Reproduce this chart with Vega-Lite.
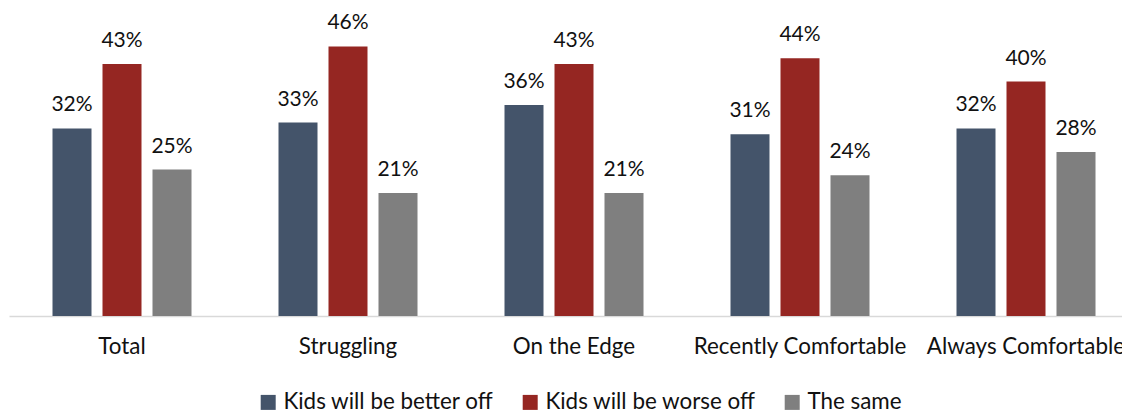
{
  "$schema": "https://vega.github.io/schema/vega-lite/v6.json",
  "autosize": {"type": "none"},
  "width": 1130,
  "height": 293,
  "padding": {"left": 9, "top": 23, "right": 0, "bottom": 96},
  "background": "white",
  "config": {
    "font": "Lato",
    "view": {"stroke": null}
  },
  "data": {
    "values": [
      {"group": "Total", "series": "Kids will be better off", "value": 0.32},
      {"group": "Total", "series": "Kids will be worse off", "value": 0.43},
      {"group": "Total", "series": "The same", "value": 0.25},
      {"group": "Struggling", "series": "Kids will be better off", "value": 0.33},
      {"group": "Struggling", "series": "Kids will be worse off", "value": 0.46},
      {"group": "Struggling", "series": "The same", "value": 0.21},
      {"group": "On the Edge", "series": "Kids will be better off", "value": 0.36},
      {"group": "On the Edge", "series": "Kids will be worse off", "value": 0.43},
      {"group": "On the Edge", "series": "The same", "value": 0.21},
      {"group": "Recently Comfortable", "series": "Kids will be better off", "value": 0.31},
      {"group": "Recently Comfortable", "series": "Kids will be worse off", "value": 0.44},
      {"group": "Recently Comfortable", "series": "The same", "value": 0.24},
      {"group": "Always Comfortable", "series": "Kids will be better off", "value": 0.32},
      {"group": "Always Comfortable", "series": "Kids will be worse off", "value": 0.40},
      {"group": "Always Comfortable", "series": "The same", "value": 0.28}
    ]
  },
  "encoding": {
    "x": {
      "field": "group", "type": "nominal", "sort": null,
      "scale": {"paddingInner": 0, "paddingOuter": 0},
      "axis": {
        "title": null, "labelAngle": 0, "labelFontSize": 22.4, "labelColor": "#111111",
        "ticks": false, "domainColor": "#d9d9d9", "domainWidth": 1.5, "labelPadding": 19,
        "labelLimit": 400
      }
    },
    "xOffset": {
      "field": "series", "type": "nominal", "sort": null,
      "scale": {"paddingInner": 0.22, "paddingOuter": 0.87}
    },
    "y": {
      "field": "value", "type": "quantitative",
      "scale": {"domain": [0, 0.5], "nice": false},
      "axis": null
    }
  },
  "layer": [
    {
      "mark": {"type": "bar"},
      "encoding": {
        "color": {
          "field": "series", "type": "nominal", "sort": null,
          "scale": {"range": ["#44546A", "#952622", "#7F7F7F"]},
          "legend": {
            "title": null, "orient": "none", "direction": "horizontal",
            "legendX": 248, "legendY": 368,
            "symbolType": "square", "symbolSize": 225, "symbolStrokeWidth": 0,
            "labelFontSize": 22.4, "labelColor": "#111111", "columnPadding": 25, "labelOffset": 4,
            "labelLimit": 400
          }
        }
      }
    },
    {
      "mark": {"type": "text", "baseline": "alphabetic", "dy": -17, "fontSize": 21, "color": "#111111"},
      "encoding": {
        "text": {"field": "value", "type": "quantitative", "format": ".0%"}
      }
    }
  ]
}
